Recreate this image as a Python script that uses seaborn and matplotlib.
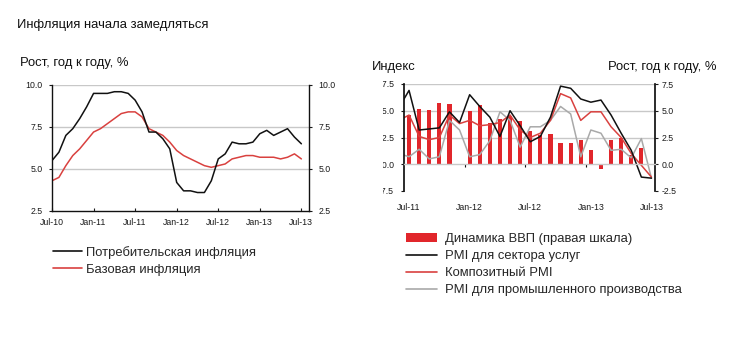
import matplotlib
matplotlib.use("Agg")
import matplotlib.pyplot as plt
import matplotlib.ticker as mticker
from matplotlib.lines import Line2D
from matplotlib.patches import Patch
from matplotlib.transforms import Bbox, TransformedBbox
import numpy as np
import pandas as pd
import seaborn as sns

# --- left chart: inflation, monthly Jul-10 .. Jul-13
infl_labels = ["Jul-10", "Jan-11", "Jul-11", "Jan-12", "Jul-12", "Jan-13", "Jul-13"]
cpi = [5.5, 6.0, 7.0, 7.4, 8.0, 8.7, 9.5, 9.5, 9.5, 9.6, 9.6, 9.5, 9.1,
       8.4, 7.2, 7.2, 6.8, 6.2, 4.2, 3.7, 3.7, 3.6, 3.6, 4.3, 5.6,
       5.9, 6.6, 6.5, 6.5, 6.6, 7.1, 7.3, 7.0, 7.2, 7.4, 6.9, 6.5]
core = [4.3, 4.5, 5.2, 5.8, 6.2, 6.7, 7.2, 7.4, 7.7, 8.0, 8.3, 8.4, 8.4,
        8.1, 7.4, 7.2, 7.0, 6.6, 6.1, 5.8, 5.6, 5.4, 5.2, 5.1, 5.2,
        5.3, 5.6, 5.7, 5.8, 5.8, 5.7, 5.7, 5.7, 5.6, 5.7, 5.9, 5.6]
infl_ticks = [2.5, 5.0, 7.5, 10.0]

# --- right chart: PMI (index) Jun-11 .. Jul-13, GDP y/y Jul-11 .. Jun-13
pmi_labels = ["Jul-11", "Jan-12", "Jul-12", "Jan-13", "Jul-13"]
pmi_services = [55.3, 56.9, 53.2, 53.3, 53.4, 54.9, 53.9, 56.5, 55.4, 54.4, 52.6, 55.0, 53.6,
                52.1, 52.6, 54.4, 57.3, 57.1, 56.1, 55.8, 56.0, 54.6, 52.9, 51.3, 48.8, 48.7]
pmi_composite = [54.1, 54.6, 52.6, 52.3, 52.5, 54.6, 53.8, 54.1, 53.6, 53.7, 53.9, 54.6, 53.2,
                 52.5, 52.9, 54.1, 56.6, 56.2, 54.1, 54.9, 54.9, 53.5, 52.5, 51.0, 49.9, 48.8]
pmi_manuf = [51.0, 50.7, 51.4, 50.5, 50.7, 54.1, 53.2, 50.7, 50.9, 52.2, 54.9, 54.1, 51.6,
             53.5, 53.5, 54.1, 55.4, 54.7, 50.7, 53.2, 52.9, 51.3, 51.4, 50.6, 52.4, 48.7]
gdp = [4.6, 5.2, 5.1, 5.7, 5.6, None, 5.0, 5.5, 3.85, 4.2, 4.55, 4.0,
       3.1, 2.75, 2.85, 2.0, 2.0, 2.3, 1.3, -0.4, 2.3, 2.5, 0.9, 1.5]
pmi_ticks = [47.5, 50.0, 52.5, 55.0, 57.5]
gdp_ticks = [-2.5, 0.0, 2.5, 5.0, 7.5]

BLACK = "#111111"
RED_LINE = "#d9413f"
RED_BAR = "#e1262b"
GREY_LINE = "#a9a9a9"
GRID = "#c8c8c8"

sns.set_theme(style="white")
plt.rcParams["font.family"] = ["Liberation Sans", "DejaVu Sans"]

W, H = 729, 353
fig = plt.figure(figsize=(W / 100, H / 100), dpi=100)
fig.patch.set_facecolor("white")


def fx(px):
    return px / W


def fy(py):
    return 1 - py / H


TXT = 9.4
TICK = 6.3

fig.text(fx(17), fy(25), "Инфляция начала замедляться", fontsize=TXT, va="center", color="#111")
fig.text(fx(20), fy(63), "Рост, год к году, %", fontsize=TXT, va="center", color="#111")
fig.text(fx(372), fy(67), "Индекс", fontsize=TXT, va="center", color="#111")
fig.text(fx(717), fy(67), "Рост, год к году, %", fontsize=TXT, va="center", ha="right", color="#111")

# ---------------- left chart ----------------
axl = fig.add_axes([fx(52), fy(211), fx(309) - fx(52), fy(85) - fy(211)])
months = np.arange(len(cpi))
df_infl = pd.DataFrame({"m": months, "cpi": cpi, "core": core})
sns.lineplot(data=df_infl, x="m", y="core", ax=axl, color=RED_LINE, lw=1.1)
sns.lineplot(data=df_infl, x="m", y="cpi", ax=axl, color=BLACK, lw=1.1)
axl.set_xlim(0, 37.1)
axl.set_ylim(infl_ticks[0], infl_ticks[-1])
for v in infl_ticks[1:]:
    axl.axhline(v, color=GRID, lw=1.0, zorder=0)
axl.set_yticks(infl_ticks)
axl.yaxis.set_major_formatter(mticker.FormatStrFormatter("%.1f"))
axl.set_xticks(np.arange(0, 37, 6), infl_labels)
axl.set_xlabel("")
axl.set_ylabel("")
axl.tick_params(axis="y", which="major", direction="out", length=2, width=0.8,
                left=True, right=True, labelleft=True, labelright=True,
                labelsize=TICK, colors="#1a1a1a", pad=5)
axl.tick_params(axis="x", direction="in", length=2.5, width=0.8, bottom=True,
                labelsize=TICK, colors="#1a1a1a", pad=5)
for side in ["left", "right", "bottom"]:
    axl.spines[side].set_color(BLACK)
    axl.spines[side].set_linewidth(1.0)
axl.spines["top"].set_visible(False)
axl.set_facecolor("none")

fig.legend(
    handles=[Line2D([], [], color=BLACK, lw=1.2), Line2D([], [], color=RED_LINE, lw=1.2)],
    labels=["Потребительская инфляция", "Базовая инфляция"],
    loc="upper left", bbox_to_anchor=(fx(53), fy(246)), frameon=False, fontsize=TXT,
    handlelength=2.2, handletextpad=0.35, labelspacing=0.36, borderpad=0, borderaxespad=0,
)

# ---------------- right chart ----------------
axr = fig.add_axes([fx(404), fy(191), fx(655) - fx(404), fy(84) - fy(191)])
axp = axr.twinx()

gdp_df = pd.DataFrame({"m": np.arange(len(gdp)) + 0.5, "gdp": gdp}).dropna()
sns.barplot(data=gdp_df, x="m", y="gdp", ax=axr, native_scale=True, width=0.42,
            color=RED_BAR, errorbar=None, saturation=1, edgecolor="none")

pm = np.arange(-1, len(pmi_services) - 1) + 0.5
df_pmi = pd.DataFrame({"m": pm, "serv": pmi_services, "comp": pmi_composite, "manuf": pmi_manuf})
sns.lineplot(data=df_pmi, x="m", y="manuf", ax=axp, color=GREY_LINE, lw=1.1)
sns.lineplot(data=df_pmi, x="m", y="comp", ax=axp, color=RED_LINE, lw=1.1)
sns.lineplot(data=df_pmi, x="m", y="serv", ax=axp, color=BLACK, lw=1.1)

axr.set_xlim(0, 24.85)
axr.set_ylim(gdp_ticks[0], gdp_ticks[-1])
axp.set_ylim(pmi_ticks[0], pmi_ticks[-1])
for v in gdp_ticks[2:]:
    axr.axhline(v, color=GRID, lw=1.0, zorder=0)

axr.yaxis.tick_right()
axp.yaxis.tick_left()
axr.set_yticks(gdp_ticks)
axp.set_yticks(pmi_ticks)
axr.yaxis.set_major_formatter(mticker.FormatStrFormatter("%.1f"))
axp.yaxis.set_major_formatter(mticker.FormatStrFormatter("%.1f"))
axr.tick_params(axis="y", direction="out", length=2, width=0.8, labelsize=TICK,
                colors="#1a1a1a", pad=3)
axp.tick_params(axis="y", direction="out", length=2, width=0.8, labelsize=TICK,
                colors="#1a1a1a", pad=5)

# month starts get tick marks on the zero line, month centres carry labels
axr.set_xticks([6, 12, 18])
axr.set_xticks(np.arange(0, 25, 6) + 0.5, pmi_labels, minor=True)
axr.tick_params(axis="x", which="major", length=0, labelbottom=False)
axr.tick_params(axis="x", which="minor", length=0, labelsize=TICK, colors="#1a1a1a", pad=9)
axp.xaxis.set_visible(True)
axp.spines["bottom"].set_position(("data", pmi_ticks[1]))
axp.spines["bottom"].set_color(GRID)
axp.spines["bottom"].set_linewidth(1.0)
axp.tick_params(axis="x", which="major", direction="out", length=2.5, width=0.8,
                color=BLACK, labelbottom=False, bottom=True)
axp.tick_params(axis="x", which="minor", length=0, labelbottom=False)
axr.set_xlabel("")
axr.set_ylabel("")
axp.set_xlabel("")
axp.set_ylabel("")

axr.spines["top"].set_visible(False)
axr.spines["left"].set_visible(False)
axr.spines["bottom"].set_visible(False)
axr.spines["right"].set_color(BLACK)
axp.spines["top"].set_visible(False)
axp.spines["right"].set_visible(False)
axp.spines["left"].set_color(BLACK)
axr.set_facecolor("none")

fig.legend(
    handles=[Patch(facecolor=RED_BAR, edgecolor="none"),
             Line2D([], [], color=BLACK, lw=1.2),
             Line2D([], [], color=RED_LINE, lw=1.2),
             Line2D([], [], color=GREY_LINE, lw=1.2)],
    labels=["Динамика ВВП (правая шкала)", "PMI для сектора услуг",
            "Композитный PMI", "PMI для промышленного производства"],
    loc="upper left", bbox_to_anchor=(fx(406), fy(233)), frameon=False, fontsize=TXT,
    handlelength=2.4, handletextpad=0.6, labelspacing=0.38, borderpad=0, borderaxespad=0,
)

# the left-hand index labels are cut off in the source image
fig.canvas.draw()
clip = TransformedBbox(Bbox.from_extents(fx(383), 0, 1, 1), fig.transFigure)
for lab in axp.get_yticklabels():
    lab.set_clip_box(clip)
    lab.set_clip_on(True)

fig.savefig("out.png", dpi=100)
